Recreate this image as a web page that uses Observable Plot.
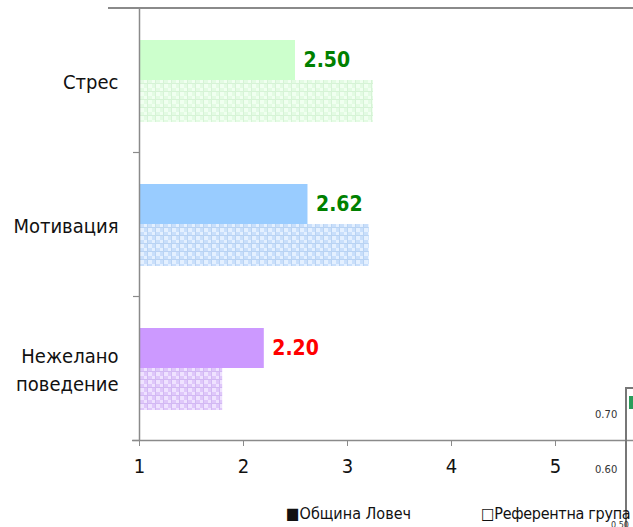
<!DOCTYPE html>
<html><head><meta charset="utf-8">
<script src="https://cdn.jsdelivr.net/npm/d3@7"></script>
<script src="https://cdn.jsdelivr.net/npm/@observablehq/plot@0.6"></script>
<style>
html,body{margin:0;padding:0;background:#fff;}
#wrap{position:relative;width:633px;height:527px;overflow:hidden;font-family:"DejaVu Sans Condensed","DejaVu Sans",sans-serif;color:#111;}
#wrap svg{display:block;}
.ov{position:absolute;}
.leg{position:absolute;font-size:16px;white-space:nowrap;color:#111;}
.frag{position:absolute;font-size:10px;color:#333;font-family:"DejaVu Sans",sans-serif;}
</style></head><body><div id="wrap"></div>
<script>
// ---- data ----
const categories = ["Стрес", "Мотивация", "Нежелано поведение"];
const series = ["Община Ловеч", "Референтна група"];
const lovech = [2.50, 2.62, 2.20];
const reference = [3.25, 3.21, 1.80];
const valueLabels = ["2.50", "2.62", "2.20"];
const xTicks = [1, 2, 3, 4, 5];

// ---- styles ----
const solidFill = ["#ccffcc", "#99ccff", "#cc99ff"];
const patBase = ["#e3fbe3", "#c9dffb", "#dfc7fa"];
const patLight = ["#f0fff0", "#e4f0ff", "#efe2ff"];
const patDark = ["#d6f3d6", "#b9d3f3", "#d2b8f3"];
const labelFill = ["#008000", "#008000", "#ff0000"];

const data = categories.map((c, i) => ({
  category: c, lovech: lovech[i], reference: reference[i], label: valueLabels[i],
  solid: solidFill[i], pattern: `url(#pat${i})`, labelColor: labelFill[i]
}));

const chart = Plot.plot({
  width: 633, height: 527,
  marginTop: 8, marginBottom: 87, marginLeft: 139, marginRight: 0,
  style: {fontFamily: '"DejaVu Sans Condensed","DejaVu Sans",sans-serif', fontSize: "20px", color: "#111", background: "#fff", overflow: "visible"},
  x: {domain: [1, 5.75]},
  y: {type: "band", domain: categories, padding: 0, axis: null},
  color: {type: "identity"},
  marks: [
    Plot.barX(data, {x1: 1, x2: "reference", y: "category", fill: "pattern", insetTop: 72, insetBottom: 30}),
    Plot.barX(data, {x1: 1, x2: "lovech", y: "category", fill: "solid", insetTop: 32, insetBottom: 72}),
    Plot.text(data, {x: "lovech", y: "category", text: "label", dx: 8, dy: -20, textAnchor: "start", fill: "labelColor", fontWeight: "bold", fontSize: 21}),
    Plot.text(categories, {y: d => d, text: d => d.replace(" ", "\n"), frameAnchor: "left", dx: -21, textAnchor: "end", lineHeight: 1.4, fontSize: 20, fill: "#111"}),
    Plot.ruleX([1], {stroke: "#8a8a8a", strokeWidth: 1.5}),
    Plot.ruleY([categories[categories.length - 1]], {y: d => d, dy: 72, stroke: "#8a8a8a", strokeWidth: 1.5, insetLeft: -7}),
    Plot.ruleY(categories, {y: d => d, dy: 72, stroke: "#8a8a8a", strokeWidth: 1.2, insetLeft: -6, insetRight: 633 - 139}),
    Plot.axisX({ticks: xTicks, tickSize: 6, tickPadding: 12, stroke: "#8a8a8a", fill: "#111", fontSize: 20, tickFormat: d => String(d)})
  ]
});

// patterns
const svg = d3.select(chart);
const defs = svg.insert("defs", ":first-child");
for (let i = 0; i < 3; i++) {
  const p = defs.append("pattern").attr("id", `pat${i}`).attr("patternUnits", "userSpaceOnUse").attr("width", 8).attr("height", 8);
  p.append("rect").attr("width", 8).attr("height", 8).attr("fill", patBase[i]);
  p.append("rect").attr("x", 0).attr("y", 0).attr("width", 4).attr("height", 4).attr("fill", patLight[i]);
  p.append("rect").attr("x", 4).attr("y", 4).attr("width", 4).attr("height", 4).attr("fill", patLight[i]);
  p.append("rect").attr("x", 3).attr("y", 0).attr("width", 1).attr("height", 8).attr("fill", patDark[i]);
  p.append("rect").attr("x", 0).attr("y", 3).attr("width", 8).attr("height", 1).attr("fill", patDark[i]);
}

const wrap = document.getElementById("wrap");
wrap.appendChild(chart);

// frame fragments & legend
function add(cls, style, text) {
  const d = document.createElement("div");
  d.className = cls;
  Object.assign(d.style, style);
  if (text) d.textContent = text;
  wrap.appendChild(d);
}
add("ov", {left: "108px", top: "7px", width: "525px", height: "1.5px", background: "#8a8a8a"});
add("ov", {left: "625px", top: "387px", width: "1.5px", height: "140px", background: "#777"});
add("ov", {left: "625px", top: "387px", width: "8px", height: "1.5px", background: "#777"});
add("ov", {left: "629px", top: "396px", width: "4px", height: "13px", background: "#2a9d5a"});
add("frag", {left: "595px", top: "409px"}, "0.70");
add("frag", {left: "595px", top: "464px"}, "0.60");
add("frag", {left: "611px", top: "521px", fontSize: "8px"}, "0.50");
add("leg", {left: "286px", top: "504px"}, "■" + series[0]);
add("leg", {left: "481px", top: "504px", letterSpacing: "-0.3px"}, "□" + series[1]);
</script></body></html>
